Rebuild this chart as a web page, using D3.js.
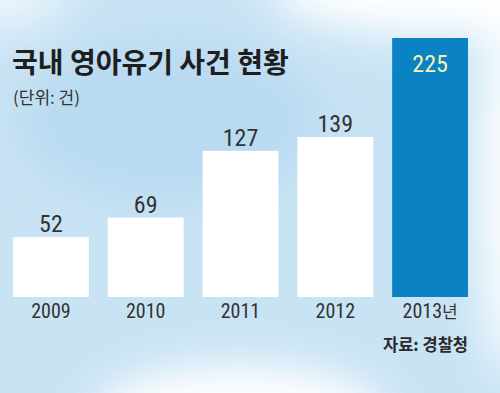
<!DOCTYPE html>
<html>
<head>
<meta charset="utf-8">
<script src="https://cdn.jsdelivr.net/npm/d3@7"></script>
<style>
    body { margin: 0; background: #c6e2f4; }
    svg { display: block; }
</style>
</head>
<body>
<svg id="chart" width="500" height="393"></svg>
<script>
var years = ['2009', '2010', '2011', '2012', '2013년'];
var cases = [52, 69, 127, 139, 225];
var highlight = '2013년';

var w = 500;
var h = 393;
var baseY = 297;

var svg = d3.select('#chart');

// watercolour-ish background
var defs = svg.append('defs');
defs.append('filter')
    .attr('id', 'soft')
    .attr('x', '-50%').attr('y', '-50%')
    .attr('width', '200%').attr('height', '200%')
    .append('feGaussianBlur')
    .attr('stdDeviation', 22);

svg.append('rect')
    .attr('width', w)
    .attr('height', h)
    .attr('fill', '#c8e3f4');

var blobs = svg.append('g').attr('filter', 'url(#soft)');
blobs.append('ellipse')
    .attr('cx', 170).attr('cy', 120).attr('rx', 150).attr('ry', 80)
    .attr('fill', '#b9daf1');
blobs.append('ellipse')
    .attr('cx', 440).attr('cy', -10).attr('rx', 170).attr('ry', 45)
    .attr('fill', '#ffffff');
blobs.append('ellipse')
    .attr('cx', 510).attr('cy', 180).attr('rx', 30).attr('ry', 200)
    .attr('fill', '#ffffff');
blobs.append('ellipse')
    .attr('cx', 240).attr('cy', 420).attr('rx', 150).attr('ry', 55)
    .attr('fill', '#ffffff');
blobs.append('ellipse')
    .attr('cx', -10).attr('cy', -10).attr('rx', 80).attr('ry', 40)
    .attr('fill', '#eaf5fc');

var xScale = d3.scaleBand()
    .domain(years)
    .range([13, 468])
    .paddingInner(0.2)
    .paddingOuter(0);

var yScale = d3.scaleLinear()
    .domain([0, 225])
    .range([baseY, 38]);

var data = years.map(function (d, i) {
    return { year: d, value: cases[i] };
});

var numFont = '"Liberation Sans Narrow", "Roboto Condensed", "Noto Sans", sans-serif';
var krFont = '"Noto Sans CJK KR", "Noto Sans", sans-serif';

var groups = svg.selectAll('g.bar')
    .data(data)
    .enter()
    .append('g')
    .attr('class', 'bar')
    .attr('transform', function (d) {
        return 'translate(' + xScale(d.year) + ',0)';
    });

groups.append('rect')
    .attr('x', 0)
    .attr('y', function (d) { return yScale(d.value); })
    .attr('width', xScale.bandwidth())
    .attr('height', function (d) { return baseY - yScale(d.value); })
    .attr('fill', function (d) { return d.year === highlight ? '#0a82c4' : '#ffffff'; });

groups.append('text')
    .text(function (d) { return d.value; })
    .attr('text-anchor', 'middle')
    .attr('x', xScale.bandwidth() / 2)
    .attr('y', function (d) {
        return d.year === highlight ? yScale(d.value) + 34 : yScale(d.value) - 5;
    })
    .attr('font-family', numFont)
    .attr('font-size', '24px')
    .attr('fill', function (d) { return d.year === highlight ? '#f4f1b4' : '#333333'; });

// x axis labels, drawn with d3.axisBottom and then stripped of lines
var xAxis = svg.append('g')
    .attr('transform', 'translate(0,' + (baseY + 21) + ')')
    .call(d3.axisBottom(xScale).tickSize(0).tickPadding(0));
xAxis.select('.domain').remove();
xAxis.selectAll('text')
    .attr('dy', 0)
    .attr('font-family', numFont)
    .attr('font-size', '20px')
    .attr('fill', '#333333');
xAxis.selectAll('text')
    .filter(function (d) { return d === highlight; })
    .attr('font-family', krFont)
    .attr('font-size', '17px')
    .each(function () {
        // year digits narrow, 년 in Korean font
        var t = d3.select(this);
        t.text(null);
        t.append('tspan').attr('font-family', numFont).attr('font-size', '20px').text('2013');
        t.append('tspan').text('년');
    });

svg.append('text')
    .text('국내 영아유기 사건 현황')
    .attr('x', 12)
    .attr('y', 73)
    .attr('font-family', krFont)
    .attr('font-weight', 'bold')
    .attr('font-size', '28px')
    .attr('fill', '#1e1e1e');

svg.append('text')
    .text('(단위: 건)')
    .attr('x', 13)
    .attr('y', 104)
    .attr('font-family', krFont)
    .attr('font-size', '17px')
    .attr('fill', '#333333');

svg.append('text')
    .text('자료: 경찰청')
    .attr('text-anchor', 'end')
    .attr('x', 468)
    .attr('y', 351)
    .attr('font-family', krFont)
    .attr('font-weight', 'bold')
    .attr('font-size', '16.5px')
    .attr('fill', '#2a2a2a');
</script>
</body>
</html>
